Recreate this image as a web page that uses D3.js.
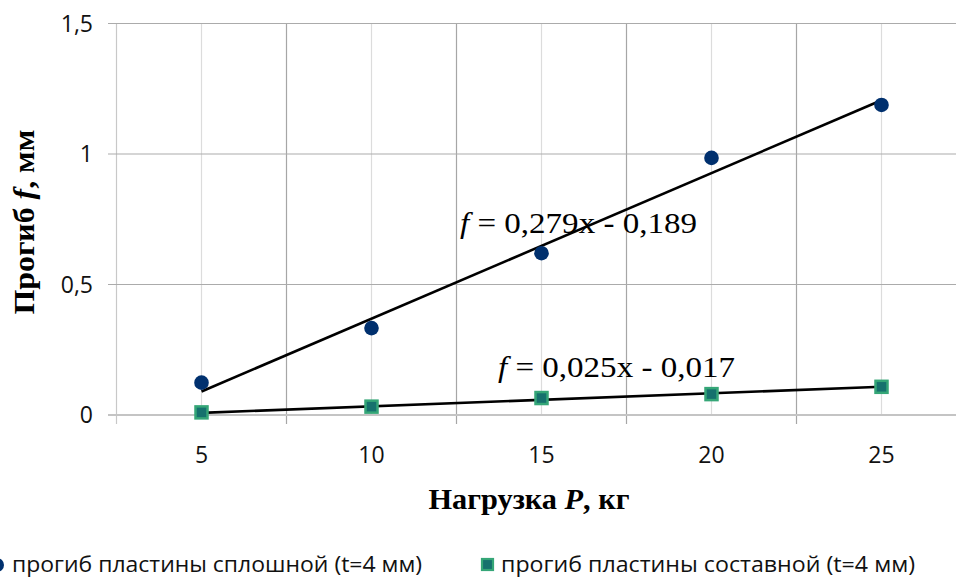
<!DOCTYPE html>
<html><head><meta charset="utf-8">
<script src="https://cdn.jsdelivr.net/npm/d3@7"></script>
<style>html,body{margin:0;padding:0;background:#fff;overflow:hidden}</style>
</head><body>
<svg id="c" width="956" height="579"></svg>
<script>
const categories = [5, 10, 15, 20, 25];
const solidValues = [0.124, 0.333, 0.62, 0.985, 1.188];
const compositeValues = [0.01, 0.032, 0.065, 0.08, 0.108];
const seriesNames = ["прогиб пластины сплошной (t=4 мм)", "прогиб пластины составной (t=4 мм)"];
const trendSolid = {slope: 0.279, intercept: -0.189, label: "0,279x - 0,189"};
const trendComposite = {slope: 0.025, intercept: -0.017, label: "0,025x - 0,017"};
const yTicks = [0, 0.5, 1, 1.5];
const yTickLabels = ["0", "0,5", "1", "1,5"];

const svg = d3.select("#c");
const x = d3.scaleBand().domain(categories).range([116.5, 966.5]);
const cx = c => x(c) + x.bandwidth() / 2;
const y = d3.scaleLinear().domain([0, 1.5]).range([415, 23.5]);
const xi = d3.scaleLinear().domain([1, categories.length]).range([cx(categories[0]), cx(categories[categories.length-1])]);

const g = svg.append("g");
g.selectAll(".vmin").data(categories).join("line")
  .attr("x1", d => cx(d)).attr("x2", d => cx(d))
  .attr("y1", y(1.5)).attr("y2", y(0))
  .attr("stroke", "#dcdcdc").attr("stroke-width", 1.2);
g.selectAll(".vmaj").data(categories).join("line")
  .attr("x1", d => x(d)).attr("x2", d => x(d))
  .attr("y1", y(1.5)).attr("y2", y(0) + 9)
  .attr("stroke", (d, i) => i === 0 ? "#c8c8c8" : "#a6a6a6").attr("stroke-width", 1.2);
g.selectAll(".h").data(yTicks).join("line")
  .attr("x1", 108).attr("x2", 970)
  .attr("y1", d => y(d)).attr("y2", d => y(d))
  .attr("stroke", d => d === 0 ? "#c4c4c4" : "#ababab").attr("stroke-width", d => d === 0 ? 2 : 1.2);

const font = "'Open Sans', 'Noto Sans', sans-serif";
g.selectAll(".yl").data(yTicks).join("text")
  .attr("x", 93).attr("y", d => y(d)).attr("dy", "0.36em")
  .attr("text-anchor", "end").attr("font-family", font).attr("font-size", 23).attr("fill", "#111")
  .text((d, i) => yTickLabels[i]);
g.selectAll(".xl").data(categories).join("text")
  .attr("x", d => cx(d)).attr("y", 455).attr("dy", "0.36em")
  .attr("text-anchor", "middle").attr("font-family", font).attr("font-size", 23).attr("fill", "#111")
  .text(d => d);

const line = d3.line().x(d => xi(d[0])).y(d => y(d[1]));
[trendSolid, trendComposite].forEach(t => {
  const pts = [1, categories.length].map(i => [i, t.slope * i + t.intercept]);
  g.append("path").attr("d", line(pts)).attr("fill", "none").attr("stroke", "#000").attr("stroke-width", 2.6);
});

g.selectAll(".circ").data(solidValues).join("circle")
  .attr("cx", (d, i) => cx(categories[i])).attr("cy", d => y(d)).attr("r", 7.3)
  .attr("fill", "#00306e");
const sq = 12;
g.selectAll(".sq").data(compositeValues).join("rect")
  .attr("x", (d, i) => cx(categories[i]) - sq/2).attr("y", d => y(d) - sq/2)
  .attr("width", sq).attr("height", sq)
  .attr("fill", "#16716d").attr("stroke", "#35a677").attr("stroke-width", 2.5);

function eq(t, xPos, yPos, w) {
  const tx = g.append("text").attr("x", xPos).attr("y", yPos)
    .attr("font-family", "'Liberation Serif', 'Times New Roman', serif").attr("font-size", 29).attr("fill", "#000");
  tx.append("tspan").attr("font-style", "italic").text("f");
  tx.append("tspan").text("  = " + t.label);
  tx.attr("textLength", w).attr("lengthAdjust", "spacingAndGlyphs");
}
eq(trendSolid, 460, 233, 237);
eq(trendComposite, 498, 377, 237);

const xt = g.append("text").attr("x", 529).attr("y", 509).attr("text-anchor", "middle")
  .attr("font-family", "'Liberation Serif', 'Times New Roman', serif").attr("font-weight", "bold")
  .attr("font-size", 30).attr("fill", "#000")
  .attr("textLength", 201).attr("lengthAdjust", "spacingAndGlyphs");
xt.append("tspan").text("Нагрузка ");
xt.append("tspan").attr("font-style", "italic").text("P");
xt.append("tspan").text(", кг");

const yt = g.append("text").attr("transform", "translate(34,222) rotate(-90)").attr("text-anchor", "middle")
  .attr("font-family", "'Liberation Serif', 'Times New Roman', serif").attr("font-weight", "bold")
  .attr("font-size", 30).attr("fill", "#000")
  .attr("textLength", 185).attr("lengthAdjust", "spacingAndGlyphs");
yt.append("tspan").text("Прогиб ");
yt.append("tspan").attr("font-style", "italic").text("f");
yt.append("tspan").text(",  мм");

const lg = svg.append("g");
lg.append("circle").attr("cx", -3).attr("cy", 565).attr("r", 7).attr("fill", "#00306e");
lg.append("text").attr("x", 12).attr("y", 564).attr("dy", "0.36em")
  .attr("font-family", font).attr("font-size", 22).attr("fill", "#111")
  .attr("textLength", 410).attr("lengthAdjust", "spacingAndGlyphs").text(seriesNames[0]);
lg.append("rect").attr("x", 482).attr("y", 559).attr("width", 11).attr("height", 11)
  .attr("fill", "#16716d").attr("stroke", "#35a677").attr("stroke-width", 2.2);
lg.append("text").attr("x", 501).attr("y", 564).attr("dy", "0.36em")
  .attr("font-family", font).attr("font-size", 22).attr("fill", "#111")
  .attr("textLength", 414).attr("lengthAdjust", "spacingAndGlyphs").text(seriesNames[1]);
</script>
</body></html>
